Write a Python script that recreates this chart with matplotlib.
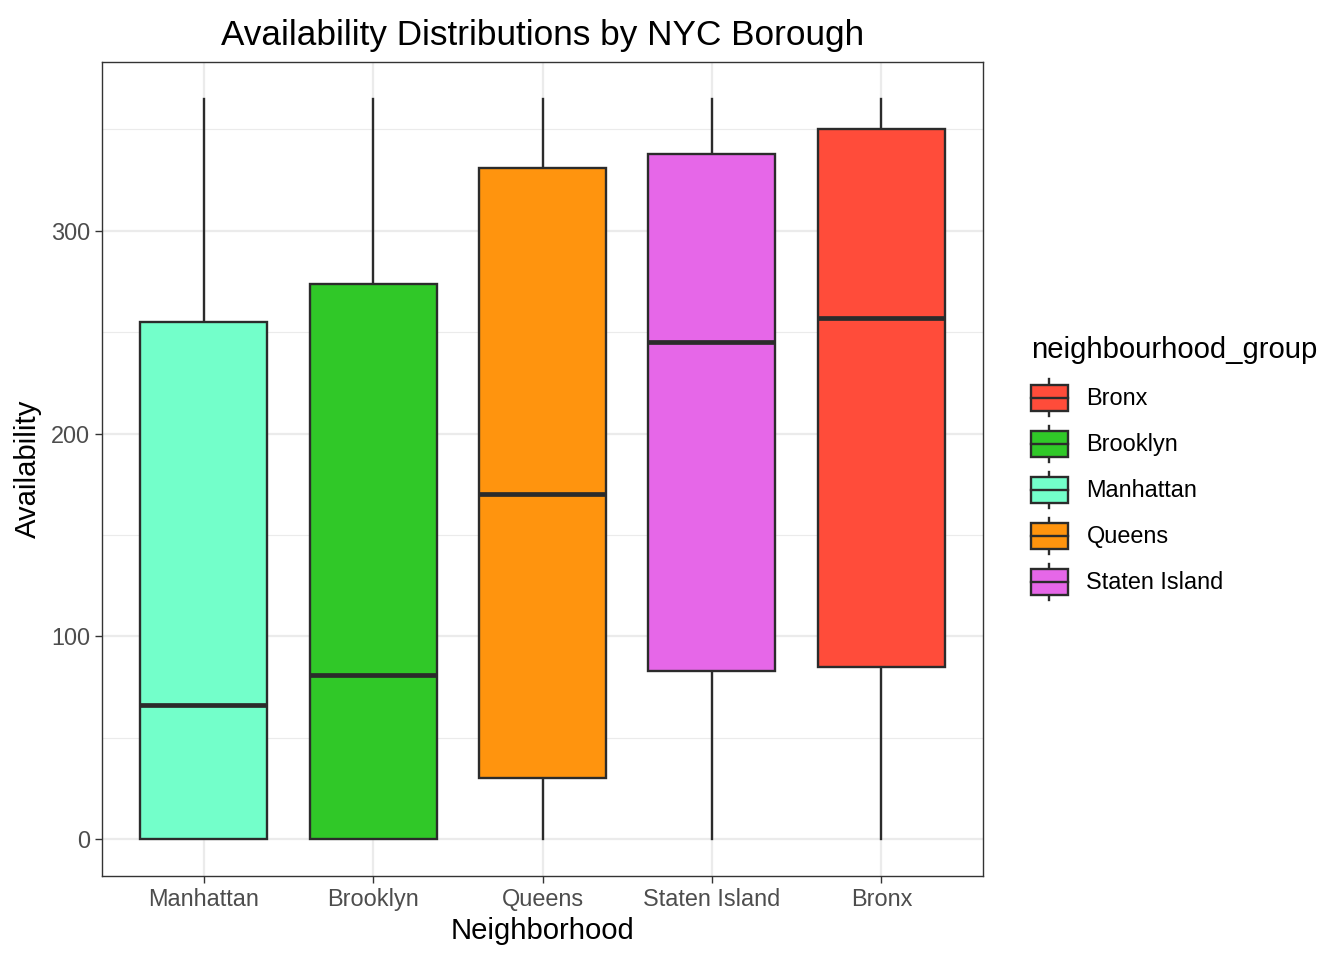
import matplotlib
matplotlib.use("Agg")
import matplotlib.pyplot as plt
from matplotlib.legend_handler import HandlerBase
from matplotlib.patches import Rectangle
from matplotlib.lines import Line2D

plt.rcParams['font.family'] = ['Liberation Sans', 'DejaVu Sans']

# Box statistics (availability, days)
boroughs = ['Manhattan', 'Brooklyn', 'Queens', 'Staten Island', 'Bronx']
whislo = [0, 0, 0, 0, 0]
q1 = [0, 0, 30, 83, 85]
med = [66, 81, 170, 245, 257]
q3 = [255, 274, 331, 338, 350]
whishi = [365, 365, 365, 365, 365]
colors = {'Manhattan': '#73FFCA', 'Brooklyn': '#30C828', 'Queens': '#FF940E',
          'Staten Island': '#E667E8', 'Bronx': '#FF4C3A'}
legend_order = sorted(boroughs)

edge = '#2B2B2B'
lw = 1.7
fig = plt.figure(figsize=(13.44, 9.6), dpi=100)
ax = fig.add_axes([0.0759, 0.0875, 0.6555, 0.8479])

stats = []
for i, b in enumerate(boroughs):
    stats.append(dict(label=b, whislo=whislo[i], q1=q1[i], med=med[i], q3=q3[i], whishi=whishi[i]))

positions = list(range(1, len(boroughs) + 1))
bp = ax.bxp(stats, positions=positions, widths=0.75, patch_artist=True,
            showfliers=False, showcaps=False,
            boxprops=dict(edgecolor=edge, linewidth=lw),
            medianprops=dict(color=edge, linewidth=3.4, solid_capstyle='butt'),
            whiskerprops=dict(color=edge, linewidth=lw))
for patch, b in zip(bp['boxes'], boroughs):
    patch.set_facecolor(colors[b])
for w in bp['whiskers']:
    w.set_zorder(1)
for patch in bp['boxes']:
    patch.set_zorder(2)
for m in bp['medians']:
    m.set_zorder(3)

ax.set_xlim(0.4, 5.6)
ax.set_ylim(-18.25, 383.25)
ax.set_xticks(positions)
ax.set_xticklabels(boroughs)
ax.set_yticks([0, 100, 200, 300])
ax.set_yticks([50, 150, 250, 350], minor=True)
ax.grid(True, which='major', color='#EBEBEB', linewidth=1.6)
ax.grid(True, which='minor', axis='y', color='#EBEBEB', linewidth=0.8)
ax.set_axisbelow(True)
ax.tick_params(axis='both', which='major', length=5.3, width=1.0, color='#333333',
               labelcolor='#4D4D4D', labelsize=16.9, pad=3.5)
ax.tick_params(axis='y', which='minor', length=0)
for s in ax.spines.values():
    s.set_color('#333333')
    s.set_linewidth(1.0)

ax.set_xlabel('Neighborhood', fontsize=21.1, labelpad=4)
ax.set_ylabel('Availability', fontsize=21.1, labelpad=6)
ax.set_title('Availability Distributions by NYC Borough', fontsize=25.3, pad=12)


class BoxHandler(HandlerBase):
    def __init__(self, color):
        super().__init__()
        self.color = color

    def create_artists(self, legend, orig_handle, xdescent, ydescent, width, height, fontsize, trans):
        x0, y0 = -xdescent, -ydescent
        cx = x0 + width / 2
        bh = height * 0.56
        by = y0 + (height - bh) / 2
        rect = Rectangle((x0, by), width, bh, facecolor=self.color,
                         edgecolor=edge, linewidth=lw, transform=trans)
        wl = Line2D([cx, cx], [y0 + 0.1 * height, y0 + 0.9 * height], color=edge,
                    linewidth=lw, transform=trans)
        ml = Line2D([x0, x0 + width], [y0 + height / 2] * 2, color=edge,
                    linewidth=lw, transform=trans)
        return [wl, rect, ml]


handles = [Rectangle((0, 0), 1, 1) for _ in legend_order]
hmap = {h: BoxHandler(colors[b]) for h, b in zip(handles, legend_order)}
leg = fig.legend(handles, legend_order, handler_map=hmap, title='neighbourhood_group',
                 loc='center left', bbox_to_anchor=(0.767, 0.51), frameon=False,
                 fontsize=16.9, title_fontsize=21.1, handlelength=1.57, handleheight=2.64,
                 labelspacing=0.0, handletextpad=0.8, borderpad=0, borderaxespad=0)
leg._legend_box.align = 'left'
leg._legend_box.sep = 8

fig.savefig('out.png', dpi=100)
